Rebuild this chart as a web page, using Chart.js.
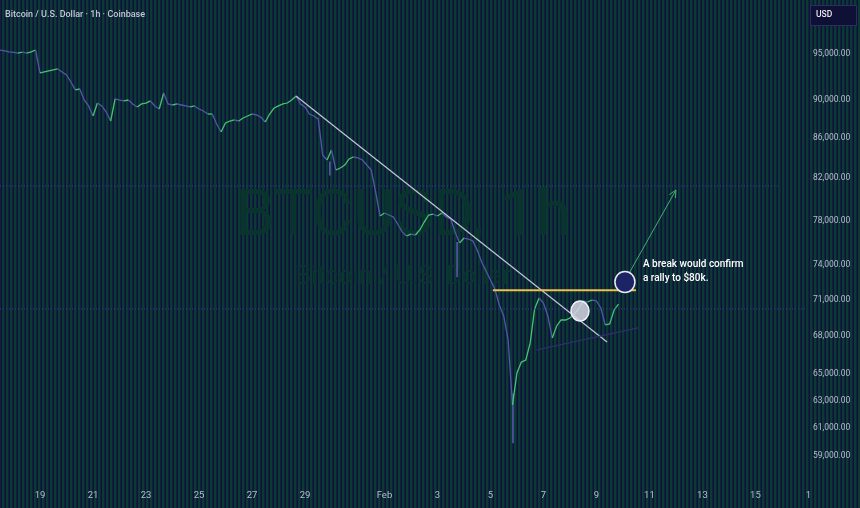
<!DOCTYPE html>
<html>
<head>
<meta charset="utf-8">
<script src="https://cdn.jsdelivr.net/npm/chart.js@4.4.1/dist/chart.umd.min.js"></script>
<style>
    html, body { margin: 0; padding: 0; background: #0b3933; }
    #wrap { width: 860px; height: 508px; position: relative; }
</style>
</head>
<body>
<div id="wrap"><canvas id="btcChart" width="860" height="508"></canvas></div>
<script>
const startDay = 17.5;
const stepDay = 1 / 6;
const closes = [
    95450, 95340, 95230, 95180, 95110, 95200, 95110, 95230, 95450, 92890,
    93000, 93110, 93220, 93330, 93000, 92670, 91900, 91040, 91140, 89960,
    89330, 88270, 89640, 89330, 88690, 87750, 90070, 89960, 89860, 89960,
    89540, 89220, 89540, 89640, 89860, 89330, 89010, 90710, 89540, 89430,
    89540, 89430, 89330, 89220, 89330, 89010, 88800, 88480, 88480, 87440,
    86610, 87540, 87750, 87860, 87750, 88060, 88270, 88480, 88380, 88170,
    87650, 88480, 89110, 89330, 89540, 89640, 89960, 90390, 89540, 89220,
    88480, 88270, 87960, 84290, 83790, 84790, 82800, 83000, 83290, 83890,
    84090, 83990, 83790, 83290, 82800, 80670, 78410, 78690, 78500, 78320,
    77670, 76940, 76570, 76750, 76660, 77120, 77850, 78500, 78590, 78410,
    78690, 78320, 78130, 76940, 75940, 76390, 76300, 76120, 75310, 74250,
    73460, 72680, 71910, 70560, 69650, 67700, 62680, 65100, 65950, 66110,
    67460, 70230, 71150, 70730, 69650, 67860, 68830, 69320, 69320, 69480,
    69810, 70230, 70900, 70810, 70980, 70900, 70310, 68910, 68990, 70150,
    70640
];
// long wicks: [day, low, high]
const wicks = [
    [29.94, 82300, 83600],
    [34.74, 72940, 76000],
    [36.85, 59920, 63500]
];

const xTickDays = [19, 21, 23, 25, 27, 29, 32, 34, 36, 38, 40, 42, 44, 46, 48];
const xTickLabels = ['19', '21', '23', '25', '27', '29', 'Feb', '3', '5', '7', '9', '11', '13', '15', '1'];
const yTicks = [95000, 90000, 86000, 82000, 78000, 74000, 71000, 68000, 65000, 63000, 61000, 59000];

// drawings on the chart, in [day, price]
const downTrend = [[28.66, 90390], [40.40, 67540]];
const breakLevel = [[36.09, 71800], [41.49, 71800]];
const supportLine = [[37.75, 66900], [41.57, 68670]];
const arrowLine = [[41.26, 73380], [43.0, 80860]];
const priceLines = [[81240, 17.49, 46.9], [70230, 17.49, 47.9]];
const touchCircle = [39.38, 70060];
const breakCircle = [41.075, 72510];
const noteLines = [['A break would confirm', 41.755, 74070], ['a rally to $80k.', 41.755, 72855]];

const upColor = '#46c46e';
const downColor = '#5357a8';

const stripesPlugin = {
    id: 'stripes',
    beforeDraw(chart) {
        const c = chart.ctx;
        c.save();
        c.fillStyle = '#0b3933';
        c.fillRect(0, 0, chart.width, chart.height);
        c.fillStyle = '#100f3e';
        for (let x = 0.5; x < chart.width; x += 4) {
            c.fillRect(x, 0, 1.5, chart.height);
        }
        c.restore();
    }
};

const watermarkPlugin = {
    id: 'watermark',
    beforeDatasetsDraw(chart) {
        const c = chart.ctx;
        const a = chart.chartArea;
        const cx = (a.left + a.right) / 2;
        c.save();
        c.textAlign = 'center';
        c.textBaseline = 'middle';
        c.fillStyle = 'rgba(11,52,46,0.95)';
        c.font = '64px Roboto, sans-serif';
        c.fillText('BTCUSD, 1h', cx - 2, 219);
        c.font = '25px Roboto, sans-serif';
        c.fillText('Bitcoin / U.S. Dollar', cx - 2, 278);
        c.restore();
    }
};

const drawingsPlugin = {
    id: 'drawings',
    afterDatasetsDraw(chart) {
        const c = chart.ctx;
        const xs = chart.scales.x, ys = chart.scales.y;
        const px = d => xs.getPixelForValue(d);
        const py = p => ys.getPixelForValue(p);
        const seg = (pts, color, width, dash) => {
            c.beginPath();
            c.strokeStyle = color;
            c.lineWidth = width;
            c.setLineDash(dash || []);
            c.moveTo(px(pts[0][0]), py(pts[0][1]));
            c.lineTo(px(pts[1][0]), py(pts[1][1]));
            c.stroke();
        };
        c.save();
        priceLines.forEach(l => seg([[l[1], l[0]], [l[2], l[0]]], '#3b3f96', 1, [1, 2]));
        c.setLineDash([]);
        seg(downTrend, '#c4c4d8', 1.2);
        seg(breakLevel, '#e8c24a', 2);
        seg(supportLine, '#2e306a', 1.3);
        seg(arrowLine, '#3fb070', 1);
        // arrow head
        const x1 = px(arrowLine[0][0]), y1 = py(arrowLine[0][1]);
        const x2 = px(arrowLine[1][0]), y2 = py(arrowLine[1][1]);
        const ang = Math.atan2(y2 - y1, x2 - x1);
        c.beginPath();
        c.moveTo(x2 - 8 * Math.cos(ang - 0.45), y2 - 8 * Math.sin(ang - 0.45));
        c.lineTo(x2, y2);
        c.lineTo(x2 - 8 * Math.cos(ang + 0.45), y2 - 8 * Math.sin(ang + 0.45));
        c.stroke();
        // circles
        c.beginPath();
        c.ellipse(px(touchCircle[0]), py(touchCircle[1]), 9, 10, 0, 0, Math.PI * 2);
        c.fillStyle = 'rgba(215,215,228,0.85)';
        c.fill();
        c.strokeStyle = '#f0f0f8';
        c.lineWidth = 1.5;
        c.stroke();
        c.beginPath();
        c.ellipse(px(breakCircle[0]), py(breakCircle[1]), 10, 10.5, 0, 0, Math.PI * 2);
        c.fillStyle = '#1d2465';
        c.fill();
        c.strokeStyle = '#eaeaf2';
        c.stroke();
        // note
        c.fillStyle = '#ffffff';
        c.font = '500 10px Roboto, sans-serif';
        c.textBaseline = 'middle';
        noteLines.forEach(n => c.fillText(n[0], px(n[1]), py(n[2])));
        c.restore();
    },
    afterDraw(chart) {
        const c = chart.ctx;
        c.save();
        c.font = '500 9px Roboto, sans-serif';
        c.fillStyle = '#c3c6d4';
        c.textBaseline = 'middle';
        c.fillText('Bitcoin / U.S. Dollar · 1h · Coinbase', 5, 15);
        c.fillStyle = '#0f1036';
        c.fillRect(810, 5, 46, 20);
        c.strokeStyle = '#2b2e5c';
        c.lineWidth = 1;
        c.strokeRect(810.5, 5.5, 46, 20);
        c.fillStyle = '#e8e8f0';
        c.font = '500 8.5px Roboto, sans-serif';
        c.fillText('USD', 816, 15);
        c.restore();
    }
};

const ctx = document.getElementById('btcChart');
new Chart(ctx, {
    data: {
        datasets: [{
            type: 'line',
            data: closes.map((p, i) => ({ x: startDay + i * stepDay, y: p })),
            borderWidth: 1.3,
            pointRadius: 0,
            tension: 0,
            borderColor: downColor,
            segment: {
                borderColor: s => s.p1.parsed.y >= s.p0.parsed.y ? upColor : downColor
            }
        }, {
            type: 'bar',
            data: wicks.map(w => ({ x: w[0], y: [w[1], w[2]] })),
            backgroundColor: downColor,
            barThickness: 1
        }]
    },
    options: {
        responsive: false,
        animation: false,
        layout: { padding: 0 },
        plugins: {
            legend: { display: false },
            tooltip: { enabled: false }
        },
        scales: {
            x: {
                type: 'linear',
                offset: false,
                min: 17.49,
                max: 48.06,
                grid: { display: false, drawTicks: false, offset: false },
                border: { display: false },
                afterFit: axis => {
                    axis.height = 26;
                    axis.paddingLeft = 0;
                    axis.paddingRight = 0;
                },
                afterBuildTicks: axis => { axis.ticks = xTickDays.map(v => ({ value: v })); },
                ticks: {
                    padding: 8,
                    maxRotation: 0,
                    autoSkip: false,
                    color: '#b8bccc',
                    font: { family: 'Roboto', size: 9.5 },
                    callback: v => xTickLabels[xTickDays.indexOf(v)]
                }
            },
            y: {
                type: 'logarithmic',
                position: 'right',
                min: 57212,
                max: 101277,
                grid: { display: false, drawTicks: false },
                border: { display: false },
                afterFit: axis => {
                    axis.width = 50;
                    axis.paddingTop = 0;
                    axis.paddingBottom = 0;
                },
                afterBuildTicks: axis => { axis.ticks = yTicks.map(v => ({ value: v })); },
                ticks: {
                    padding: 3,
                    autoSkip: false,
                    color: '#b8bccc',
                    font: { family: 'Roboto', size: 8.5 },
                    callback: v => v.toLocaleString('en-US', { minimumFractionDigits: 2, maximumFractionDigits: 2 })
                }
            }
        }
    },
    plugins: [stripesPlugin, watermarkPlugin, drawingsPlugin]
});
</script>
</body>
</html>
